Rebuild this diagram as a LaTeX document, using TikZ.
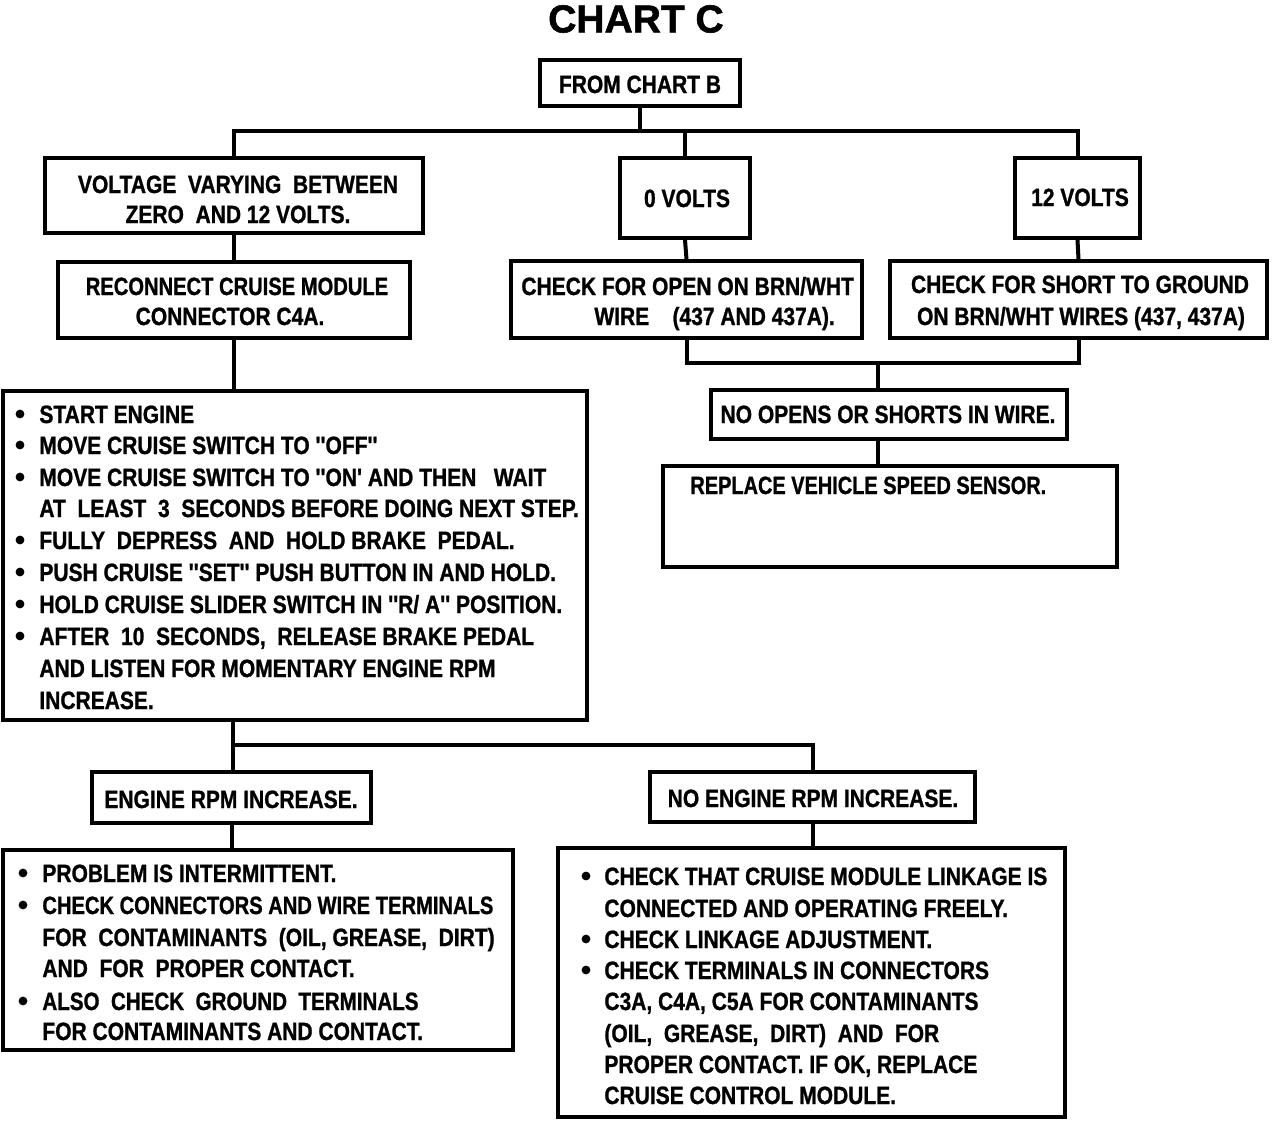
\documentclass[tikz,border=0pt]{standalone}
\usepackage{fontspec}
\usepackage{graphicx}
\usetikzlibrary{fit}
\newfontfamily\cond{Liberation Sans}[FakeStretch=0.84, FakeBold=1]
\newfontfamily\ttlfont{Liberation Sans}[FakeBold=1.5]
\tikzset{
  box/.style={draw, line width=2pt, inner sep=0pt, rectangle},
  txt/.style={inner sep=0pt, text height=9pt, text depth=0pt, font=\cond\bfseries\fontsize{12.5}{14}\selectfont},
  lt/.style={txt, anchor=west},
  conn/.style={line width=2pt},
  bul/.style={fill=black}
}
\newcommand{\sqz}[2]{\scalebox{#1}[1]{#2}}
\begin{document}
\begin{tikzpicture}[x=0.5pt,y=-0.5pt]
\useasboundingbox (0,0) rectangle (1280,1124);
% title
\node[inner sep=0pt, font=\ttlfont\bfseries\fontsize{19.5}{20}\selectfont] (title) at (636,19) {CHART C};
% boxes
\node[box, fit={(540,60) (740,106)}] (fromb) {};
\node[box, fit={(45,158) (423,233)}] (volt) {};
\node[box, fit={(620,158) (750,238)}] (v0) {};
\node[box, fit={(1015,158) (1140,238)}] (v12) {};
\node[box, fit={(58,262) (410,338)}] (recon) {};
\node[box, fit={(511,261) (862,338)}] (copen) {};
\node[box, fit={(890,261) (1267,338)}] (cshort) {};
\node[box, fit={(711,390) (1067,439)}] (noop) {};
\node[box, fit={(663,466) (1117,567)}] (repl) {};
\node[box, fit={(3,391) (587,720)}] (steps) {};
\node[box, fit={(92,772) (371,823)}] (erpm) {};
\node[box, fit={(650,772) (975,822)}] (nerpm) {};
\node[box, fit={(3,850) (513,1050)}] (lres) {};
\node[box, fit={(558,848) (1065,1117)}] (rres) {};
% connector coordinates
\coordinate (b1) at (640,131);
\coordinate (j) at (878,363);
\coordinate (b2) at (233,745);
% connectors
\draw[conn] (fromb.south) -- (fromb.south |- b1);
\draw[conn] (volt.north) -- (volt.north |- b1) -- (v12.north |- b1) -- (v12.north);
\draw[conn] (v0.north) -- (v0.north |- b1);
\draw[conn] (volt.south) -- (recon.north);
\draw[conn] (v0.south) -- (copen.north);
\draw[conn] (v12.south) -- (cshort.north);
\draw[conn] (copen.south) -- (copen.south |- j) -- (cshort.south |- j) -- (cshort.south);
\draw[conn] (j) -- (j |- noop.north);
\draw[conn] (j |- noop.south) -- (j |- repl.north);
\draw[conn] (recon.south) -- (recon.south |- steps.north);
\draw[conn] (steps.south -| b2) -- (b2) -- (nerpm.north |- b2) -- (nerpm.north);
\draw[conn] (b2) -- (b2 |- erpm.north);
\draw[conn] (erpm.south) -- (erpm.south |- lres.north);
\draw[conn] (nerpm.south) -- (nerpm.south |- rres.north);
% texts
\node[txt] (t1) at (640,84) {FROM CHART B};
\node[txt] (t2) at (238,184) {VOLTAGE\ \ VARYING\ \ BETWEEN};
\node[txt] (t3) at (238,214) {ZERO\ \ AND 12 VOLTS.};
\node[txt] (t4) at (687,198) {0 VOLTS};
\node[txt] (t5) at (1080,197) {12 VOLTS};
\node[txt] (t6) at (237,286) {\sqz{0.96}{RECONNECT CRUISE MODULE}};
\node[txt] (t7) at (230,316) {CONNECTOR C4A.};
\node[lt] (t8) at (521,286) {CHECK FOR OPEN ON BRN/WHT};
\node[lt] (t9) at (594,316) {WIRE\ \ \ \ (437 AND 437A).};
\node[txt] (t10) at (1080,284) {CHECK FOR SHORT TO GROUND};
\node[txt] (t11) at (1081,316) {ON BRN/WHT WIRES (437, 437A)};
\node[txt] (t12) at (888,414) {NO OPENS OR SHORTS IN WIRE.};
\node[lt] (t13) at (690,485) {\sqz{0.95}{REPLACE VEHICLE SPEED SENSOR.}};
% steps box
\foreach \y in {414,445,477,540,572,604,636} \fill[bul] (20,\y) circle (2.2pt);
\node[lt] (s1) at (39,414) {START ENGINE};
\node[lt] (s2) at (39,445) {MOVE CRUISE SWITCH TO ''OFF''};
\node[lt] (s3) at (39,477) {MOVE CRUISE SWITCH TO ''ON' AND THEN\ \ \ WAIT};
\node[lt] (s4) at (39,508) {AT\ \ LEAST\ \ 3\ \ SECONDS BEFORE DOING NEXT STEP.};
\node[lt] (s5) at (39,540) {FULLY\ \ DEPRESS\ \ AND\ \ HOLD BRAKE\ \ PEDAL.};
\node[lt] (s6) at (39,572) {PUSH CRUISE ''SET'' PUSH BUTTON IN AND HOLD.};
\node[lt] (s7) at (39,604) {HOLD CRUISE SLIDER SWITCH IN ''R/ A'' POSITION.};
\node[lt] (s8) at (39,636) {AFTER\ \ 10\ \ SECONDS,\ \ RELEASE BRAKE PEDAL};
\node[lt] (s9) at (39,668) {AND LISTEN FOR MOMENTARY ENGINE RPM};
\node[lt] (s10) at (39,700) {INCREASE.};
\node[txt] (t14) at (231,799) {ENGINE RPM INCREASE.};
\node[txt] (t15) at (813,798) {NO ENGINE RPM INCREASE.};
% left result
\foreach \y in {873,905,1001} \fill[bul] (23,\y) circle (2.2pt);
\node[lt] (l1) at (42,873) {PROBLEM IS INTERMITTENT.};
\node[lt] (l2) at (42,905) {\sqz{0.96}{CHECK CONNECTORS AND WIRE TERMINALS}};
\node[lt] (l3) at (42,937) {FOR\ \ CONTAMINANTS\ \ (OIL, GREASE,\ \ DIRT)};
\node[lt] (l4) at (42,968) {AND\ \ FOR\ \ PROPER CONTACT.};
\node[lt] (l5) at (42,1001) {\sqz{0.98}{ALSO\ \ CHECK\ \ GROUND\ \ TERMINALS}};
\node[lt] (l6) at (42,1031) {FOR CONTAMINANTS AND CONTACT.};
% right result
\foreach \y in {876,939,970} \fill[bul] (586,\y) circle (2.2pt);
\node[lt] (r1) at (604,876) {CHECK THAT CRUISE MODULE LINKAGE IS};
\node[lt] (r2) at (604,908) {CONNECTED AND OPERATING FREELY.};
\node[lt] (r3) at (604,939) {CHECK LINKAGE ADJUSTMENT.};
\node[lt] (r4) at (604,970) {CHECK TERMINALS IN CONNECTORS};
\node[lt] (r5) at (604,1001) {C3A, C4A, C5A FOR CONTAMINANTS};
\node[lt] (r6) at (604,1033) {(OIL,\ \ GREASE,\ \ DIRT)\ \ AND\ \ FOR};
\node[lt] (r7) at (604,1064) {PROPER CONTACT. IF OK, REPLACE};
\node[lt] (r8) at (604,1095) {CRUISE CONTROL MODULE.};
\end{tikzpicture}
\end{document}
